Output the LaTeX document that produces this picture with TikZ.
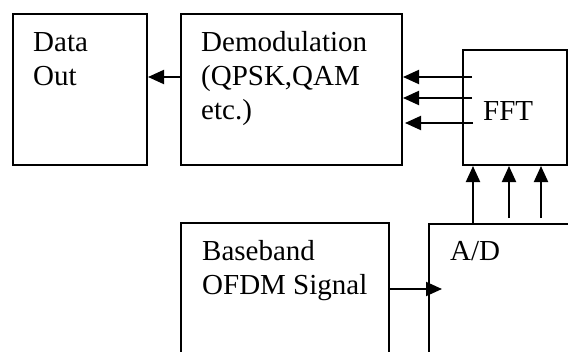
\documentclass[tikz,border=0pt]{standalone}
\usepackage{fontspec}
\setmainfont{Liberation Serif}
\usetikzlibrary{arrows.meta}
\begin{document}
\begin{tikzpicture}[x=1pt,y=-1pt,
  box/.style={draw,line width=2pt,rectangle,inner sep=0pt,anchor=north west},
  lbl/.style={anchor=base west,inner sep=0pt,font=\fontsize{29}{34}\selectfont},
  arr/.style={line width=2pt,-{Triangle[length=16pt,width=14pt]}}]
\useasboundingbox (0,0) rectangle (568,351);
\clip (0,0) rectangle (568,351);
\node[box,minimum width=134pt,minimum height=151pt] (data) at (12,13) {};
\node[box,minimum width=221pt,minimum height=151pt] (demod) at (180,13) {};
\node[box,minimum width=104pt,minimum height=115pt] (fft) at (462,49) {};
\node[box,minimum width=208pt,minimum height=160pt] (base) at (180,222) {};
\node[box,minimum width=160pt,minimum height=160pt] (ad) at (428,223) {};
\node[lbl] (t1) at (33,51) {Data};
\node[lbl] (t2) at (33,85) {Out};
\node[lbl] (t3) at (201,51) {Demodulation};
\node[lbl] (t4) at (201,85) {(QPSK,QAM};
\node[lbl] (t5) at (201,119) {etc.)};
\node[lbl] (t6) at (483,120) {FFT};
\node[lbl] (t7) at (202,260) {Baseband};
\node[lbl] (t8) at (202,294) {OFDM Signal};
\node[lbl] (t9) at (450,260) {A/D};
\coordinate (f1) at (472,77);
\coordinate (f2) at (472,98);
\coordinate (f3) at (473,123);
\coordinate (a2) at (509,218);
\coordinate (a3) at (541,218);
\coordinate (bin) at (442,289);
\draw[arr] (demod.west |- 0,77) -- (data.east |- 0,77);
\draw[arr] (f1) -- (demod.east |- f1);
\draw[arr] (f2) -- (demod.east |- f2);
\draw[arr] (f3) -- ([xshift=2pt]demod.east |- f3);
\draw[arr] (ad.north -| 473,0) -- (fft.south -| 473,0);
\draw[arr] (a2) -- (fft.south -| a2);
\draw[arr] (a3) -- (fft.south -| a3);
\draw[arr] (base.east |- bin) -- (bin);
\end{tikzpicture}
\end{document}
